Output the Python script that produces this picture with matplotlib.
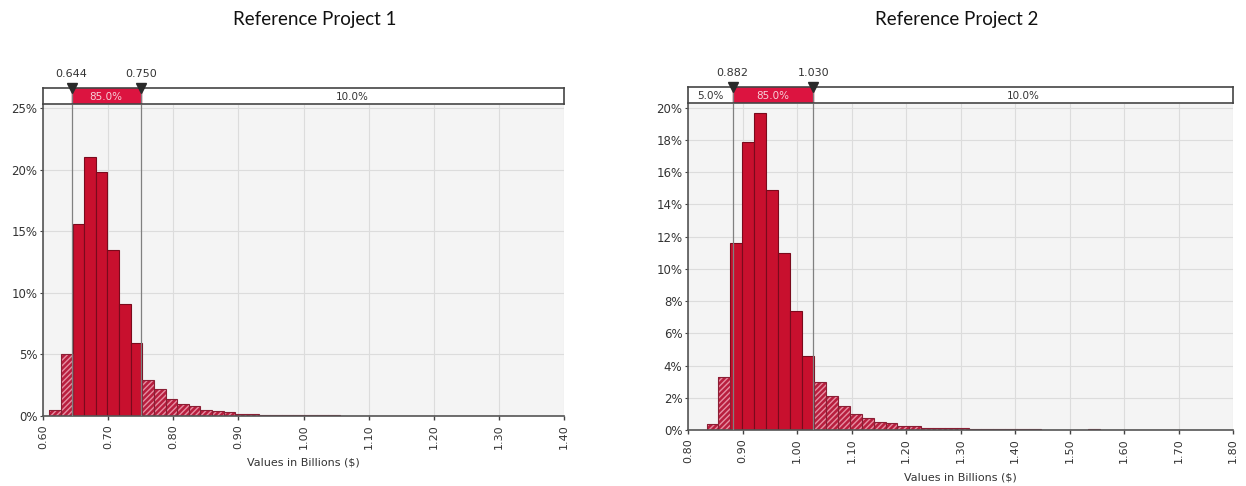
import numpy as np
import matplotlib
matplotlib.use('Agg')
import matplotlib.pyplot as plt

p1_start = 0.6097
p1_width = 0.01785
p1_pct = [0.5, 5.0, 15.6, 21.0, 19.8, 13.5, 9.1, 5.9, 2.9, 2.2,
          1.4, 1.0, 0.85, 0.5, 0.4, 0.3, 0.2, 0.2, 0.12, 0.1,
          0.08, 0.07, 0.06, 0.05, 0.05, 0.04, 0.04, 0.03, 0.03, 0.03,
          0.03, 0.02, 0.02, 0.02, 0.02, 0.02, 0.01, 0.01, 0.01, 0.01]
p1_lo, p1_hi = 0.644, 0.750
p1_band = ['', '85.0%', '10.0%']
p1_xticks = [0.60, 0.70, 0.80, 0.90, 1.00, 1.10, 1.20, 1.30, 1.40]
p1_yticks = [0, 5, 10, 15, 20, 25]

p2_start = 0.834
p2_width = 0.0219
p2_pct = [0.35, 3.3, 11.6, 17.9, 19.7, 14.9, 11.0, 7.4, 4.6, 3.0,
          2.1, 1.5, 0.97, 0.73, 0.48, 0.45, 0.25, 0.25, 0.15, 0.12,
          0.1, 0.1, 0.08, 0.06, 0.06, 0.05, 0.07, 0.04, 0.03, 0.03,
          0.03, 0.03, 0.05, 0.03, 0.02, 0.02, 0.02, 0.01, 0.01, 0.01]
p2_lo, p2_hi = 0.882, 1.030
p2_band = ['5.0%', '85.0%', '10.0%']
p2_xticks = [0.80, 0.90, 1.00, 1.10, 1.20, 1.30, 1.40, 1.50, 1.60, 1.70, 1.80]
p2_yticks = [0, 2, 4, 6, 8, 10, 12, 14, 16, 18, 20]

W, H = 1246, 486
fig = plt.figure(figsize=(W / 100, H / 100), dpi=100)

RED = '#c8102e'
BAND_RED = '#dc1440'
TXT = '#333333'


def draw(rect, band_rect, start, width, pct, lo, hi, band, xticks, yticks, ytop, title, tx, xl_y):
    ax = fig.add_axes(rect)
    axb = fig.add_axes(band_rect)
    left = start + width * np.arange(len(pct))
    pct = np.array(pct)
    mid = left + width / 2
    inside = (mid > lo) & (mid < hi)

    ax.set_facecolor('#f4f4f4')
    ax.bar(left[inside], pct[inside], width, align='edge', color=RED,
           edgecolor='#7a0a1c', linewidth=0.8, zorder=2)
    ax.bar(left[~inside], pct[~inside], width, align='edge', color='#b81e3e',
           edgecolor='#e68ea2', hatch='//////', linewidth=0, zorder=2)
    ax.bar(left[~inside], pct[~inside], width, align='edge', fill=False,
           edgecolor='#8a1f35', linewidth=0.8, zorder=2)
    for v in (lo, hi):
        ax.axvline(v, color='#808080', lw=0.9, zorder=3)

    ax.set_xlim(xticks[0], xticks[-1])
    ax.set_ylim(0, ytop)
    ax.set_xticks(xticks)
    ax.set_xticklabels(['%.2f' % t for t in xticks], rotation=90, fontsize=8, color=TXT)
    ax.set_yticks(yticks)
    ax.set_yticklabels(['%d%%' % t for t in yticks], fontsize=8.5, color=TXT)
    ax.tick_params(axis='x', length=3, width=1, color='#444444', pad=3)
    ax.tick_params(axis='y', length=2, color='#444444', pad=2)
    ax.grid(color='#dcdcdc', lw=0.8)
    ax.set_axisbelow(True)
    for s in ('top', 'right'):
        ax.spines[s].set_visible(False)
    for s in ('left', 'bottom'):
        ax.spines[s].set_color('#555555')
        ax.spines[s].set_linewidth(1.2)

    # delimiter band on top
    axb.set_xlim(xticks[0], xticks[-1])
    axb.set_ylim(0, 1)
    axb.set_xticks([])
    axb.set_yticks([])
    for s in axb.spines.values():
        s.set_color('#444444')
        s.set_linewidth(1.2)
    axb.axvspan(lo, hi, color=BAND_RED, zorder=1)
    if band[0]:
        axb.text((xticks[0] + lo) / 2, 0.45, band[0], ha='center', va='center',
                 fontsize=7.5, color=TXT)
    axb.text((lo + hi) / 2, 0.45, band[1], ha='center', va='center',
             fontsize=7.5, color='#f6d0d8')
    axb.text((hi + xticks[-1]) / 2, 0.45, band[2], ha='center', va='center',
             fontsize=7.5, color=TXT)
    axb.plot([lo, hi], [1.0, 1.0], 'v', color='#2a2a2a', ms=6.5, clip_on=False, zorder=5)
    for v in (lo, hi):
        axb.axvline(v, color='#808080', lw=0.9, zorder=2)
        axb.text(v, 1.55, '%.3f' % v, ha='center', va='bottom', fontsize=8, color=TXT)

    fig.text(tx / W, 1 - 20 / H, title, ha='center', va='center',
             fontsize=13.5, family='Lato', color='#111111')
    fig.text((rect[0] + rect[2] / 2), 1 - xl_y / H, 'Values in Billions ($)',
             ha='center', va='center', fontsize=8, color=TXT)


draw([43 / W, 1 - 416 / H, 521 / W, 311 / H], [43 / W, 1 - 104 / H, 521 / W, 16 / H],
     p1_start, p1_width, p1_pct, p1_lo, p1_hi, p1_band, p1_xticks, p1_yticks, 25.25,
     'Reference Project 1', 315, 462)
draw([688 / W, 1 - 430 / H, 545 / W, 326 / H], [688 / W, 1 - 103 / H, 545 / W, 16 / H],
     p2_start, p2_width, p2_pct, p2_lo, p2_hi, p2_band, p2_xticks, p2_yticks, 20.23,
     'Reference Project 2', 957, 477)

fig.savefig('out.png', dpi=100, facecolor='white')
